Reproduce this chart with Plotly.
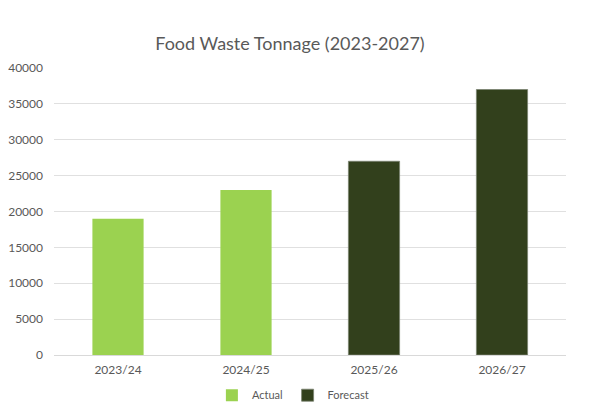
import plotly.graph_objects as go

categories = ["2023/24", "2024/25", "2025/26", "2026/27"]
actual = [19000, 23000, None, None]
forecast = [None, None, 27000, 37000]
y_ticks = [0, 5000, 10000, 15000, 20000, 25000, 30000, 35000, 40000]

fig = go.Figure()
fig.add_trace(go.Bar(name="Actual", x=categories, y=actual, width=0.4,
                     marker=dict(color="#9BD250", line=dict(width=0))))
fig.add_trace(go.Bar(name="Forecast", x=categories, y=forecast, width=0.4,
                     marker=dict(color="#32401C", line=dict(color="#7a8270", width=0.8))))

# page body has an 8px default margin, so the figure is sized/offset to compensate
fig.update_layout(
    width=585, height=400,
    barmode="overlay",
    paper_bgcolor="white", plot_bgcolor="white",
    font=dict(family="Lato, Open Sans, sans-serif", color="#595959", size=12),
    title=dict(text="Food Waste Tonnage (2023-2027)", x=0.482, xanchor="center",
               xref="container", yref="container",
               y=0.91, yanchor="middle", font=dict(size=18, color="#595959")),
    margin=dict(l=46, r=27, t=60, b=53, autoexpand=False),
    showlegend=True,
    legend=dict(orientation="h", x=0.487, xanchor="center", xref="container",
                yref="container", y=0.032, yanchor="middle",
                font=dict(size=11, color="#595959"), itemwidth=30,
                traceorder="normal"),
    xaxis=dict(showgrid=False, showline=True, linecolor="#D9D9D9", linewidth=1,
               ticks="", tickfont=dict(size=12), ticklabelstandoff=4,
               automargin=False),
    yaxis=dict(range=[0, 40000], tickvals=y_ticks, tickformat="d", showgrid=True,
               gridcolor="#E0E0E0", gridwidth=1, zeroline=False, showline=False,
               ticks="", ticklabelstandoff=10, tickfont=dict(size=12), automargin=False),
)

fig.write_html("out.html")
